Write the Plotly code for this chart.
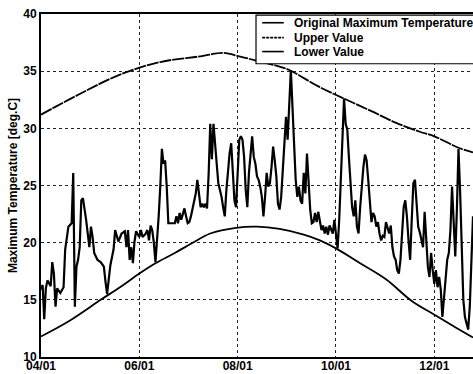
import pandas as pd
import plotly.graph_objects as go

# Season start; offsets below are days after 04/01
season_start = pd.Timestamp("2005-04-01")

# Original daily maximum temperature (day offset, deg C)
obs_days = [
    0, 1, 2, 3, 4, 6, 7, 8, 9, 10, 12, 14, 15, 17, 19, 20, 21, 22, 23, 24,
    25, 26, 28, 29, 30, 31, 32, 33, 35, 37, 39, 40, 41,
    43, 45, 46, 48, 50, 52, 53, 54, 55, 56, 57, 58, 59, 60, 61, 62, 63, 65,
    66, 67, 68, 69, 70, 71, 72, 73, 74, 75, 76, 77, 78, 79, 83, 84, 85, 86,
    87, 88, 89, 90, 91, 92, 93, 96, 97, 98, 99,
    100, 101, 102, 103, 104, 105, 106, 107, 109, 110, 111, 112, 113, 114,
    115, 116, 117, 118, 119, 120, 121, 122, 123, 124, 125, 126, 127, 128,
    129, 131, 132, 133, 134, 135, 136, 137, 138, 139, 140, 141, 142, 143,
    144, 145, 146,
    147, 148, 149, 150, 151, 152, 153, 154, 155, 156, 157, 158, 159, 160,
    161, 162, 163, 164, 165, 166, 167, 168, 169, 170, 171, 172, 173, 174,
    175, 176, 177, 178, 179, 180, 181, 182, 183, 184, 185, 186, 187, 188,
    189, 190, 191, 192,
    193, 194, 195, 196, 197, 198, 199, 200, 201, 202, 203, 204, 205, 206,
    207, 208, 209, 210, 211, 212, 213, 214, 215, 216, 217, 218, 219, 220,
    221, 222, 223, 224, 225, 226, 227, 228, 229, 230, 231, 232, 233, 234,
    235, 236, 237, 238, 239, 240, 241, 242, 243, 244, 245, 246, 247, 248,
    249, 250, 251, 252, 253, 254, 255, 256, 257, 258, 259, 260, 261, 262,
    263, 264, 265, 266, 267, 268,
]
obs_temp = [
    15.9, 16.3, 13.3, 16.0, 16.7, 16.2, 18.3, 17.3, 14.4, 16.0, 15.6, 16.1,
    19.4, 21.4, 21.7, 26.1, 14.4, 17.9, 18.5, 19.6, 23.7, 23.9, 22.0, 20.5,
    19.6, 21.4, 20.5, 19.1, 18.5, 18.3, 17.9, 16.6, 15.5,
    18.0, 19.4, 21.1, 20.1, 20.8, 21.0, 19.6, 21.1, 18.5, 19.6, 18.2, 20.1,
    21.0, 20.8, 20.5, 21.1, 20.5, 20.8, 21.1, 20.2, 21.5, 21.1, 20.0, 18.3,
    20.1, 22.3, 24.9, 28.2, 26.9, 27.2, 24.9, 21.7, 21.7, 22.3, 21.7, 22.6,
    22.0, 22.6, 23.0, 22.3, 21.7, 21.8, 22.3, 24.3, 25.5, 24.3, 23.1,
    23.4, 23.1, 23.4, 23.0, 26.0, 30.4, 27.3, 30.4, 26.9, 25.2, 24.6, 24.0,
    23.1, 22.3, 24.6, 26.6, 27.8, 28.7, 26.1, 23.7, 23.1, 26.6, 29.0, 29.3,
    29.0, 27.5, 24.6, 23.1, 26.1, 29.3, 27.5, 26.9, 25.8, 25.5, 24.9, 24.0,
    22.3, 24.0, 26.1, 24.9, 25.2, 26.6, 28.4, 27.2, 25.8,
    23.4, 22.9, 24.0, 26.4, 29.0, 31.0, 29.0, 31.9, 35.1, 31.9, 28.1, 25.5,
    24.0, 24.9, 23.7, 23.4, 26.1, 24.3, 27.8, 25.5, 22.9, 21.7, 21.8, 22.6,
    21.8, 22.7, 22.0, 21.1, 21.5, 20.8, 21.4, 20.7, 21.5, 21.1, 20.8, 22.0,
    20.5, 19.5, 22.0, 26.1, 30.1, 32.6, 30.4, 29.9, 27.5, 24.9,
    23.1, 22.3, 23.7, 21.4, 20.8, 23.1, 25.2, 26.6, 27.7, 27.2, 25.5, 23.1,
    21.8, 22.6, 22.3, 21.4, 21.8, 20.8, 20.2, 20.6, 20.5, 21.8, 21.3, 20.8,
    21.5, 19.6, 18.8, 18.5, 17.6, 17.3, 18.5, 20.8, 23.1, 23.7, 22.3, 20.2,
    18.5, 22.0, 25.2, 25.5, 23.4, 21.4,
    20.9, 20.2, 19.6, 22.7, 20.2, 17.9, 17.0, 19.1, 17.6, 16.4, 17.6, 16.1,
    17.0, 15.9, 13.5, 15.3, 17.3, 18.5, 19.1, 21.1, 24.9, 21.7, 18.8, 22.9,
    28.2, 24.5, 18.8, 15.0, 13.5, 12.9, 12.4, 14.4, 18.8, 22.3,
]

# Upper limit curve
upper_days = [0, 24, 49, 74, 99, 113, 123, 134, 148, 154, 173, 188, 205,
              220, 235, 244, 259, 268]
upper_temp = [31.2, 33.0, 34.7, 35.8, 36.3, 36.6, 36.3, 35.9, 35.4, 35.1,
              33.6, 32.6, 31.5, 30.5, 29.7, 29.3, 28.3, 27.9]

# Lower limit curve
lower_days = [0, 18, 37, 49, 61, 71, 83, 93, 105, 121, 134, 148, 163, 173,
              183, 198, 214, 230, 244, 257, 268]
lower_temp = [11.8, 13.2, 15.0, 16.1, 17.3, 18.2, 19.1, 19.9, 20.8, 21.3,
              21.4, 21.2, 20.7, 20.2, 19.5, 18.2, 16.8, 14.9, 13.7, 12.6, 11.7]

series_names = ["Original Maximum Temperature", "Upper Value", "Lower Value"]
series_dash = ["solid", "3px,1px", "solid"]

# Axis settings
x_end_day = 268
y_range = [10, 40]
y_step = 5


def to_dates(days):
    return [season_start + pd.Timedelta(days=d) for d in days]


FONT = "Liberation Sans, Arial, sans-serif"

fig = go.Figure()
fig.add_trace(go.Scatter(
    x=to_dates(obs_days), y=obs_temp, mode="lines", name=series_names[0],
    line=dict(color="black", width=2.2),
))
fig.add_trace(go.Scatter(
    x=to_dates(upper_days), y=upper_temp, mode="lines", name=series_names[1],
    line_shape="spline", line=dict(color="black", width=1.8, dash="12px,1px"),
))
fig.add_trace(go.Scatter(
    x=to_dates(lower_days), y=lower_temp, mode="lines", name=series_names[2],
    line_shape="spline", line=dict(color="black", width=1.8),
))

# Compact legend box in the upper right corner (runs past the right edge)
box_x0, box_x1 = 0.4977, 1.03
box_y0, box_y1 = 0.855, 0.997
sample_x0, sample_x1 = 0.512, 0.562
row_y = [0.9745, 0.931, 0.8905]
shapes = [dict(type="rect", xref="paper", yref="paper", layer="above",
               x0=box_x0, x1=box_x1, y0=box_y0, y1=box_y1,
               fillcolor="white", line=dict(color="black", width=1.2))]
annotations = []
for name, dash, yy in zip(series_names, series_dash, row_y):
    shapes.append(dict(type="line", xref="paper", yref="paper", layer="above",
                       x0=sample_x0, x1=sample_x1, y0=yy, y1=yy,
                       line=dict(color="black", width=1.6, dash=dash)))
    annotations.append(dict(xref="paper", yref="paper", x=0.5815, y=yy,
                            xanchor="left", yanchor="middle", showarrow=False,
                            text=name,
                            font=dict(family=FONT, size=12, weight="bold",
                                      color="black")))

fig.update_layout(
    width=473, height=374,
    margin=dict(l=41, r=0, t=14, b=17, autoexpand=False),
    paper_bgcolor="white", plot_bgcolor="white",
    font=dict(family=FONT, color="black"),
    showlegend=False,
    shapes=shapes, annotations=annotations,
)

fig.update_xaxes(
    type="date",
    range=[season_start, season_start + pd.Timedelta(days=x_end_day)],
    tick0=season_start, dtick="M2", tickformat="%m/%d",
    ticks="", ticklen=0, ticklabelstandoff=-3,
    tickfont=dict(family=FONT, size=12, weight="bold", color="black"),
    showgrid=True, gridcolor="#222", griddash="dot", gridwidth=1,
    showline=True, linecolor="black", linewidth=2, mirror=True,
    zeroline=False,
)
fig.update_yaxes(
    range=y_range, dtick=y_step, tick0=y_range[0],
    ticks="", ticklen=0,
    tickfont=dict(family=FONT, size=12, weight="bold", color="black"),
    showgrid=True, gridcolor="#222", griddash="dot", gridwidth=1,
    showline=True, linecolor="black", linewidth=2, mirror=False,
    zeroline=False,
    title=dict(text="Maximum Temperature [deg.C]", standoff=3,
               font=dict(family=FONT, size=12, weight="bold", color="black")),
)

fig.write_html("out.html")
